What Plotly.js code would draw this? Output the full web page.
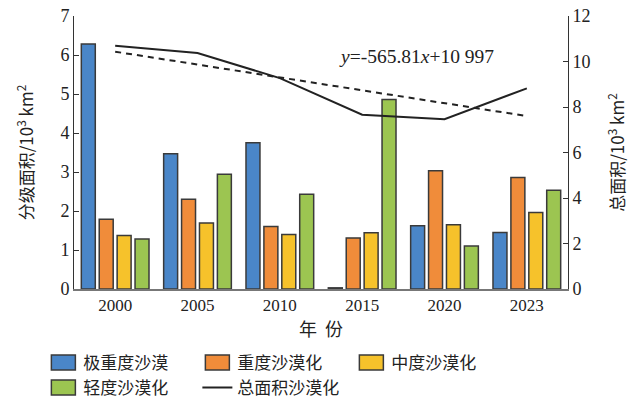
<!DOCTYPE html>
<html>
<head>
<meta charset="utf-8">
<script src="https://cdn.plot.ly/plotly-3.0.1.min.js"></script>
<style>
  html, body { margin: 0; padding: 0; background: #fff; }
  #chart { width: 637px; height: 400px; }
</style>
</head>
<body>
<div id="chart"></div>
<script>
// Desertification area by grade (10^3 km^2) and the total area
const years = ['2000', '2005', '2010', '2015', '2020', '2023'];
const extremeSevere = [6.28, 3.47, 3.75, 0.03, 1.62, 1.45];
const severe = [1.79, 2.30, 1.60, 1.31, 3.03, 2.86];
const moderate = [1.37, 1.69, 1.40, 1.44, 1.65, 1.96];
const light = [1.28, 2.94, 2.43, 4.86, 1.10, 2.53];
const totalArea = [10.69, 10.37, 9.27, 7.66, 7.46, 8.82];

// Linear trend of the total: y = -565.81x + 10997 (km^2), x = 1..6
const trendSlope = -565.81;
const trendIntercept = 10997;
const trendX = [1, 2, 3, 4, 5, 6];

const seriesNames = ['极重度沙漠', '重度沙漠化', '中度沙漠化', '轻度沙漠化', '总面积沙漠化'];
const barColors = ['#4a86c8', '#f08c3a', '#f6c22b', '#9cc551'];

const FONT = 'Liberation Serif, Times New Roman, Noto Sans CJK SC, serif';
const CJK = 'Noto Sans CJK SC, Liberation Serif, serif';

const barData = [extremeSevere, severe, moderate, light];
const traces = barData.map((vals, i) => ({
  type: 'bar',
  name: seriesNames[i],
  x: years,
  y: vals,
  marker: { color: barColors[i], line: { color: '#3a3a3a', width: 1.5 } },
  hoverinfo: 'skip'
}));

traces.push({
  type: 'scatter',
  mode: 'lines',
  name: seriesNames[4],
  x: years,
  y: totalArea,
  yaxis: 'y2',
  line: { color: '#222', width: 2 },
  hoverinfo: 'skip'
});

traces.push({
  type: 'scatter',
  mode: 'lines',
  showlegend: false,
  x: years,
  y: trendX.map(t => (trendSlope * t + trendIntercept) / 1000),
  yaxis: 'y2',
  line: { color: '#222', width: 2, dash: '6px,5px' },
  hoverinfo: 'skip'
});

const layout = {
  width: 637,
  height: 400,
  margin: { l: 74, r: 69, t: 16, b: 111, pad: 0, autoexpand: false },
  paper_bgcolor: '#fff',
  plot_bgcolor: '#fff',
  font: { family: FONT, size: 17, color: '#222' },
  barmode: 'group',
  bargap: 0.13,
  bargroupgap: 0.22,
  showlegend: true,
  xaxis: {
    type: 'category',
    range: [-0.5, 5.5],
    showgrid: false,
    zeroline: false,
    showline: true,
    linecolor: '#777',
    linewidth: 1.5,
    ticks: '',
    tickfont: { family: FONT, size: 17, color: '#222' },
    title: { text: '年  份', font: { family: CJK, size: 18, color: '#222' }, standoff: 9 }
  },
  yaxis: {
    range: [0, 7],
    dtick: 1,
    showgrid: false,
    zeroline: false,
    showline: true,
    linecolor: '#333',
    linewidth: 1,
    ticks: 'inside',
    ticklen: 5,
    tickcolor: '#333',
    tickfont: { family: FONT, size: 18, color: '#222' },
    title: { text: '分级面积/10<sup>3</sup> km<sup>2</sup>', font: { family: CJK, size: 17, color: '#222' }, standoff: 22 }
  },
  yaxis2: {
    overlaying: 'y',
    side: 'right',
    range: [0, 12],
    dtick: 2,
    showgrid: false,
    zeroline: false,
    showline: true,
    linecolor: '#333',
    linewidth: 1,
    ticks: 'inside',
    ticklen: 5,
    tickcolor: '#333',
    tickfont: { family: FONT, size: 18, color: '#222' },
    title: { text: '总面积/10<sup>3</sup> km<sup>2</sup>', font: { family: CJK, size: 17, color: '#222' }, standoff: 22 }
  },
  legend: {
    orientation: 'h',
    x: -0.062,
    xanchor: 'left',
    y: -0.205,
    yanchor: 'top',
    entrywidth: 109,
    entrywidthmode: 'pixels',
    traceorder: 'normal',
    font: { family: CJK, size: 17, color: '#222' },
    bgcolor: 'rgba(0,0,0,0)'
  },
  annotations: [{
    xref: 'paper', yref: 'paper',
    x: 0.694, y: 0.852,
    xanchor: 'center', yanchor: 'middle',
    showarrow: false,
    text: '<i>y</i>=-565.81<i>x</i>+10 997',
    font: { family: FONT, size: 19.5, color: '#222' }
  }]
};

Plotly.newPlot('chart', traces, layout, { displayModeBar: false, staticPlot: true }).then(gd => {
  // wider rectangular swatches for the bar entries in the legend
  gd.querySelectorAll('.legend .legendpoints path.legendundefined, .legend .legendbar path').forEach(p => {
    p.setAttribute('d', 'M12,7.5H-12V-7.5H12Z');
  });
});
</script>
</body>
</html>
